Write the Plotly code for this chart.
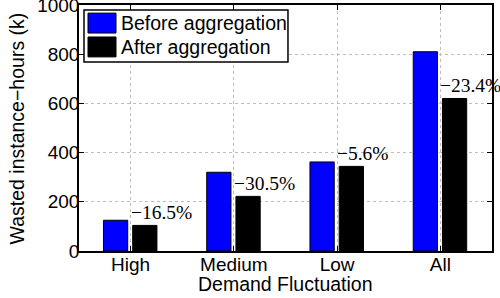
import plotly.graph_objects as go

categories = ["High", "Medium", "Low", "All"]
before_vals = [125, 320, 362, 810]
after_vals = [104, 222, 344, 620]
pct_labels = ["−16.5%", "−30.5%", "−5.6%", "−23.4%"]
series_names = ["Before aggregation", "After aggregation"]
y_ticks = [0, 200, 400, 600, 800, 1000]
x_title = "Demand Fluctuation"
y_title = "Wasted instance−hours (k)"

SANS = "Liberation Sans, Arial, Helvetica, sans-serif"
SERIF = "Liberation Serif, Times New Roman, serif"

fig = go.Figure()
fig.add_trace(go.Bar(x=categories, y=before_vals, name=series_names[0],
                     marker=dict(color="#0000ff", line=dict(color="black", width=1)),
                     width=0.235, offset=-0.263, showlegend=False))
fig.add_trace(go.Bar(x=categories, y=after_vals, name=series_names[1],
                     marker=dict(color="black", line=dict(color="black", width=1)),
                     width=0.235, offset=0.02, showlegend=False))

for c, v, t in zip(categories, after_vals, pct_labels):
    fig.add_annotation(x=c, y=v, text=t, xanchor="left", yanchor="bottom",
                       xshift=-2, yshift=0, showarrow=False,
                       font=dict(family=SERIF, size=19.5, color="black"))

# custom legend (paper coordinates)
fig.add_shape(type="rect", xref="paper", yref="paper", x0=0.0121, x1=0.506,
              y0=0.768, y1=0.980, fillcolor="white", line=dict(color="black", width=1.5),
              layer="above")
fig.add_shape(type="rect", xref="paper", yref="paper", x0=0.0218, x1=0.0896,
              y0=0.886, y1=0.967, fillcolor="#0000ff", line=dict(color="black", width=1),
              layer="above")
fig.add_shape(type="rect", xref="paper", yref="paper", x0=0.0218, x1=0.0896,
              y0=0.789, y1=0.870, fillcolor="black", line=dict(color="black", width=1),
              layer="above")
for name, yc in zip(series_names, [0.927, 0.829]):
    fig.add_annotation(xref="paper", yref="paper", x=0.0969, y=yc, text=name,
                       xanchor="left", yanchor="middle", showarrow=False,
                       font=dict(family=SANS, size=19.5, color="black"))

# axis titles as annotations
fig.add_annotation(xref="paper", yref="paper", x=0.5, y=-0.134, text=x_title,
                   xanchor="center", yanchor="middle", showarrow=False,
                   font=dict(family=SANS, size=19.5, color="black"))
fig.add_annotation(xref="paper", yref="paper", x=-0.149, y=0.5, text=y_title,
                   textangle=-90, xanchor="center", yanchor="middle", showarrow=False,
                   font=dict(family=SANS, size=19.5, color="black"))

fig.update_layout(
    width=500, height=298,
    margin=dict(l=79, r=8, t=5, b=47, autoexpand=False),
    paper_bgcolor="white", plot_bgcolor="white",
    barmode="group",
    font=dict(family=SANS, size=18.5, color="black"),
    showlegend=False,
)
fig.update_xaxes(
    type="category", range=[-0.5, 3.5], automargin=False,
    showline=True, linecolor="black", linewidth=1.5, mirror="allticks",
    ticks="inside", ticklen=5, tickcolor="black",
    showgrid=True, gridcolor="#bdbdbd", griddash="dot", gridwidth=1,
    tickfont=dict(family=SANS, size=19, color="black"),
    ticklabelstandoff=-5,
)
fig.update_yaxes(
    range=[0, 1000], tickvals=y_ticks, ticktext=[str(v) for v in y_ticks],
    automargin=False, ticklabeloverflow="allow",
    showline=True, linecolor="black", linewidth=1.5, mirror="allticks",
    ticks="inside", ticklen=5, tickcolor="black",
    showgrid=True, gridcolor="#bdbdbd", griddash="dot", gridwidth=1,
    zeroline=False,
    tickfont=dict(family=SANS, size=19, color="black"),
    ticklabelstandoff=-6,
)

fig.write_html("out.html", config={"displayModeBar": False},
               post_script="document.body.style.margin='0';document.body.style.overflow='hidden';")
